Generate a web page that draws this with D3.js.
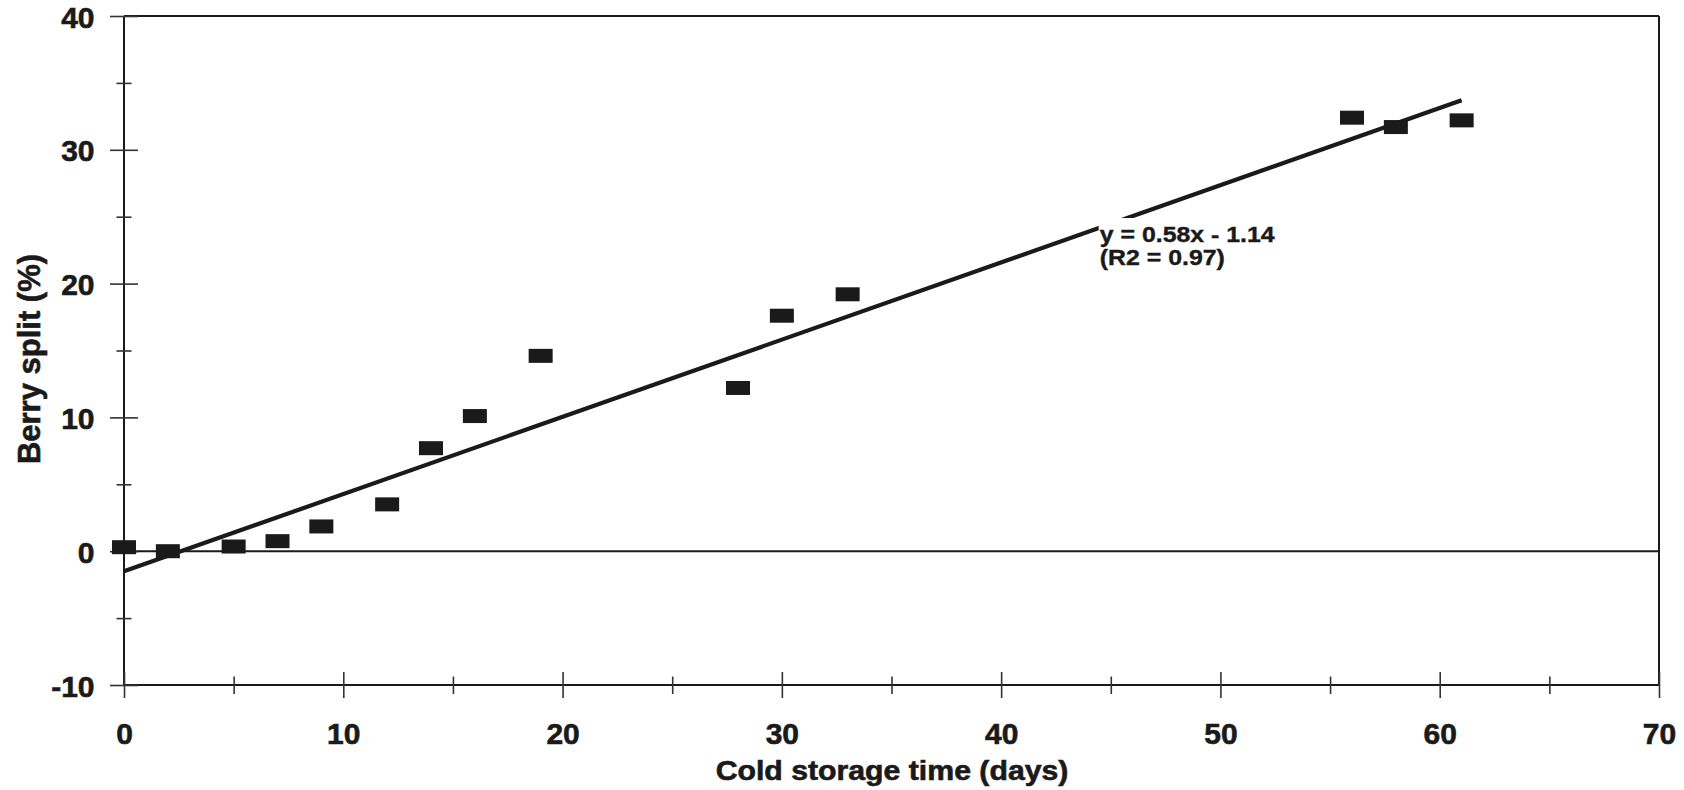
<!DOCTYPE html>
<html><head><meta charset="utf-8">
<script src="https://cdn.jsdelivr.net/npm/d3@7"></script>
<style>
body{margin:0;background:#fff;}
svg{display:block;}
text{font-family:"Liberation Sans",Arial,Helvetica,sans-serif;font-weight:bold;fill:#1a1a1a;stroke:#1a1a1a;stroke-width:0.6px;}
</style>
</head><body><svg id="c" width="1684" height="790"></svg>
<script>
// ---- data ----
const days  = [0, 2, 5, 7, 9, 12, 14, 16, 19, 28, 30, 33, 56, 58, 61];
const split = [0.3, 0.0, 0.35, 0.75, 1.85, 3.5, 7.7, 10.1, 14.6, 12.2, 17.6, 19.2, 32.4, 31.7, 32.2];
const trendDays  = [0, 61];
const trendSplit = [-1.5, 33.7];
const xTickValues = [0, 5, 10, 15, 20, 25, 30, 35, 40, 45, 50, 55, 60, 65, 70];
const yTickValues = [-10, -5, 0, 5, 10, 15, 20, 25, 30, 35, 40];
const xTitle = "Cold storage time (days)";
const yTitle = "Berry split (%)";
const eqLines = ["y = 0.58x - 1.14", "(R2 = 0.97)"];
const eqAnchor = {day: 44.5, value: 23.13};

const ink = "#1a1a1a";
const svg = d3.select("#c");
const x = d3.scaleLinear().domain([0, 70]).range([124, 1659]);
const y = d3.scaleLinear().domain([-10, 40]).range([685, 16]);

// frame + zero line
const frame = svg.append("g").attr("stroke", ink).attr("stroke-width", 2).attr("fill", "none");
frame.append("line").attr("x1", x(0)).attr("x2", x(70)).attr("y1", y(40)).attr("y2", y(40));
frame.append("line").attr("x1", x(70)).attr("x2", x(70)).attr("y1", y(40)).attr("y2", y(-10));
frame.append("line").attr("x1", x(0)).attr("x2", x(70)).attr("y1", y(0)).attr("y2", y(0));
frame.append("line").attr("x1", x(0)).attr("x2", x(70)).attr("y1", y(-10)).attr("y2", y(-10));
frame.append("line").attr("x1", x(0)).attr("x2", x(0)).attr("y1", y(40)).attr("y2", y(-10));

// x axis
const xAxis = svg.append("g").attr("transform", `translate(0,${y(-10)})`)
  .call(d3.axisBottom(x).tickValues(xTickValues).tickFormat(d => d % 10 ? "" : d).tickSizeOuter(0));
xAxis.select(".domain").remove();
xAxis.selectAll(".tick line")
  .attr("y1", d => d % 10 ? -8.5 : -13).attr("y2", d => d % 10 ? 9 : 13)
  .attr("stroke", "#333").attr("stroke-width", 1.6);
xAxis.selectAll(".tick text").attr("y", 59).attr("dy", null)
  .attr("font-size", 30).attr("font-family", null).attr("fill", ink);

// y axis
const yAxis = svg.append("g").attr("transform", `translate(${x(0)},0)`)
  .call(d3.axisLeft(y).tickValues(yTickValues).tickFormat(d => d % 10 ? "" : d).tickSizeOuter(0));
yAxis.select(".domain").remove();
yAxis.selectAll(".tick line")
  .attr("x1", d => d % 10 ? -7.5 : -14).attr("x2", d => d % 10 ? 7.5 : 14)
  .attr("stroke", "#333").attr("stroke-width", 1.6);
yAxis.selectAll(".tick text").attr("x", -29.5).attr("dy", null).attr("y", 11)
  .attr("font-size", 30).attr("font-family", null).attr("fill", ink);
svg.selectAll(".tick").attr("font-family", null).attr("font-size", null);

// trend line
const pts = trendDays.map((d, i) => [d, trendSplit[i]]);
svg.append("path").datum(pts)
  .attr("d", d3.line().x(d => x(d[0])).y(d => y(d[1])))
  .attr("stroke", ink).attr("stroke-width", 4.2).attr("fill", "none");

// markers
const mw = 24, mh = 14;
svg.append("g").selectAll("rect").data(days.map((d, i) => [d, split[i]])).join("rect")
  .attr("x", d => x(d[0]) - mw / 2).attr("y", d => y(d[1]) - mh / 2)
  .attr("width", mw).attr("height", mh).attr("fill", ink);

// equation label with white background
const eq = svg.append("g")
  .attr("transform", `translate(${x(eqAnchor.day)},${y(eqAnchor.value)}) scale(1.13,1)`);
const eqText = eq.append("text").attr("font-size", 22).style("stroke-width", "0.4px");
eqText.selectAll("tspan").data(eqLines).join("tspan")
  .attr("x", 0).attr("y", (d, i) => i * 23.5).text(d => d);
const bb = eqText.node().getBBox();
eq.insert("rect", "text").attr("x", bb.x - 1).attr("y", bb.y - 4)
  .attr("width", bb.width + 3).attr("height", bb.height + 5).attr("fill", "#fff");

// axis titles
svg.append("text").attr("transform", `translate(892,780) scale(1.12,1)`)
  .attr("text-anchor", "middle").attr("font-size", 27).text(xTitle);
svg.append("text").attr("transform", `translate(39.5,359) rotate(-90)`)
  .attr("text-anchor", "middle").attr("font-size", 31).text(yTitle);
</script>
</body></html>
